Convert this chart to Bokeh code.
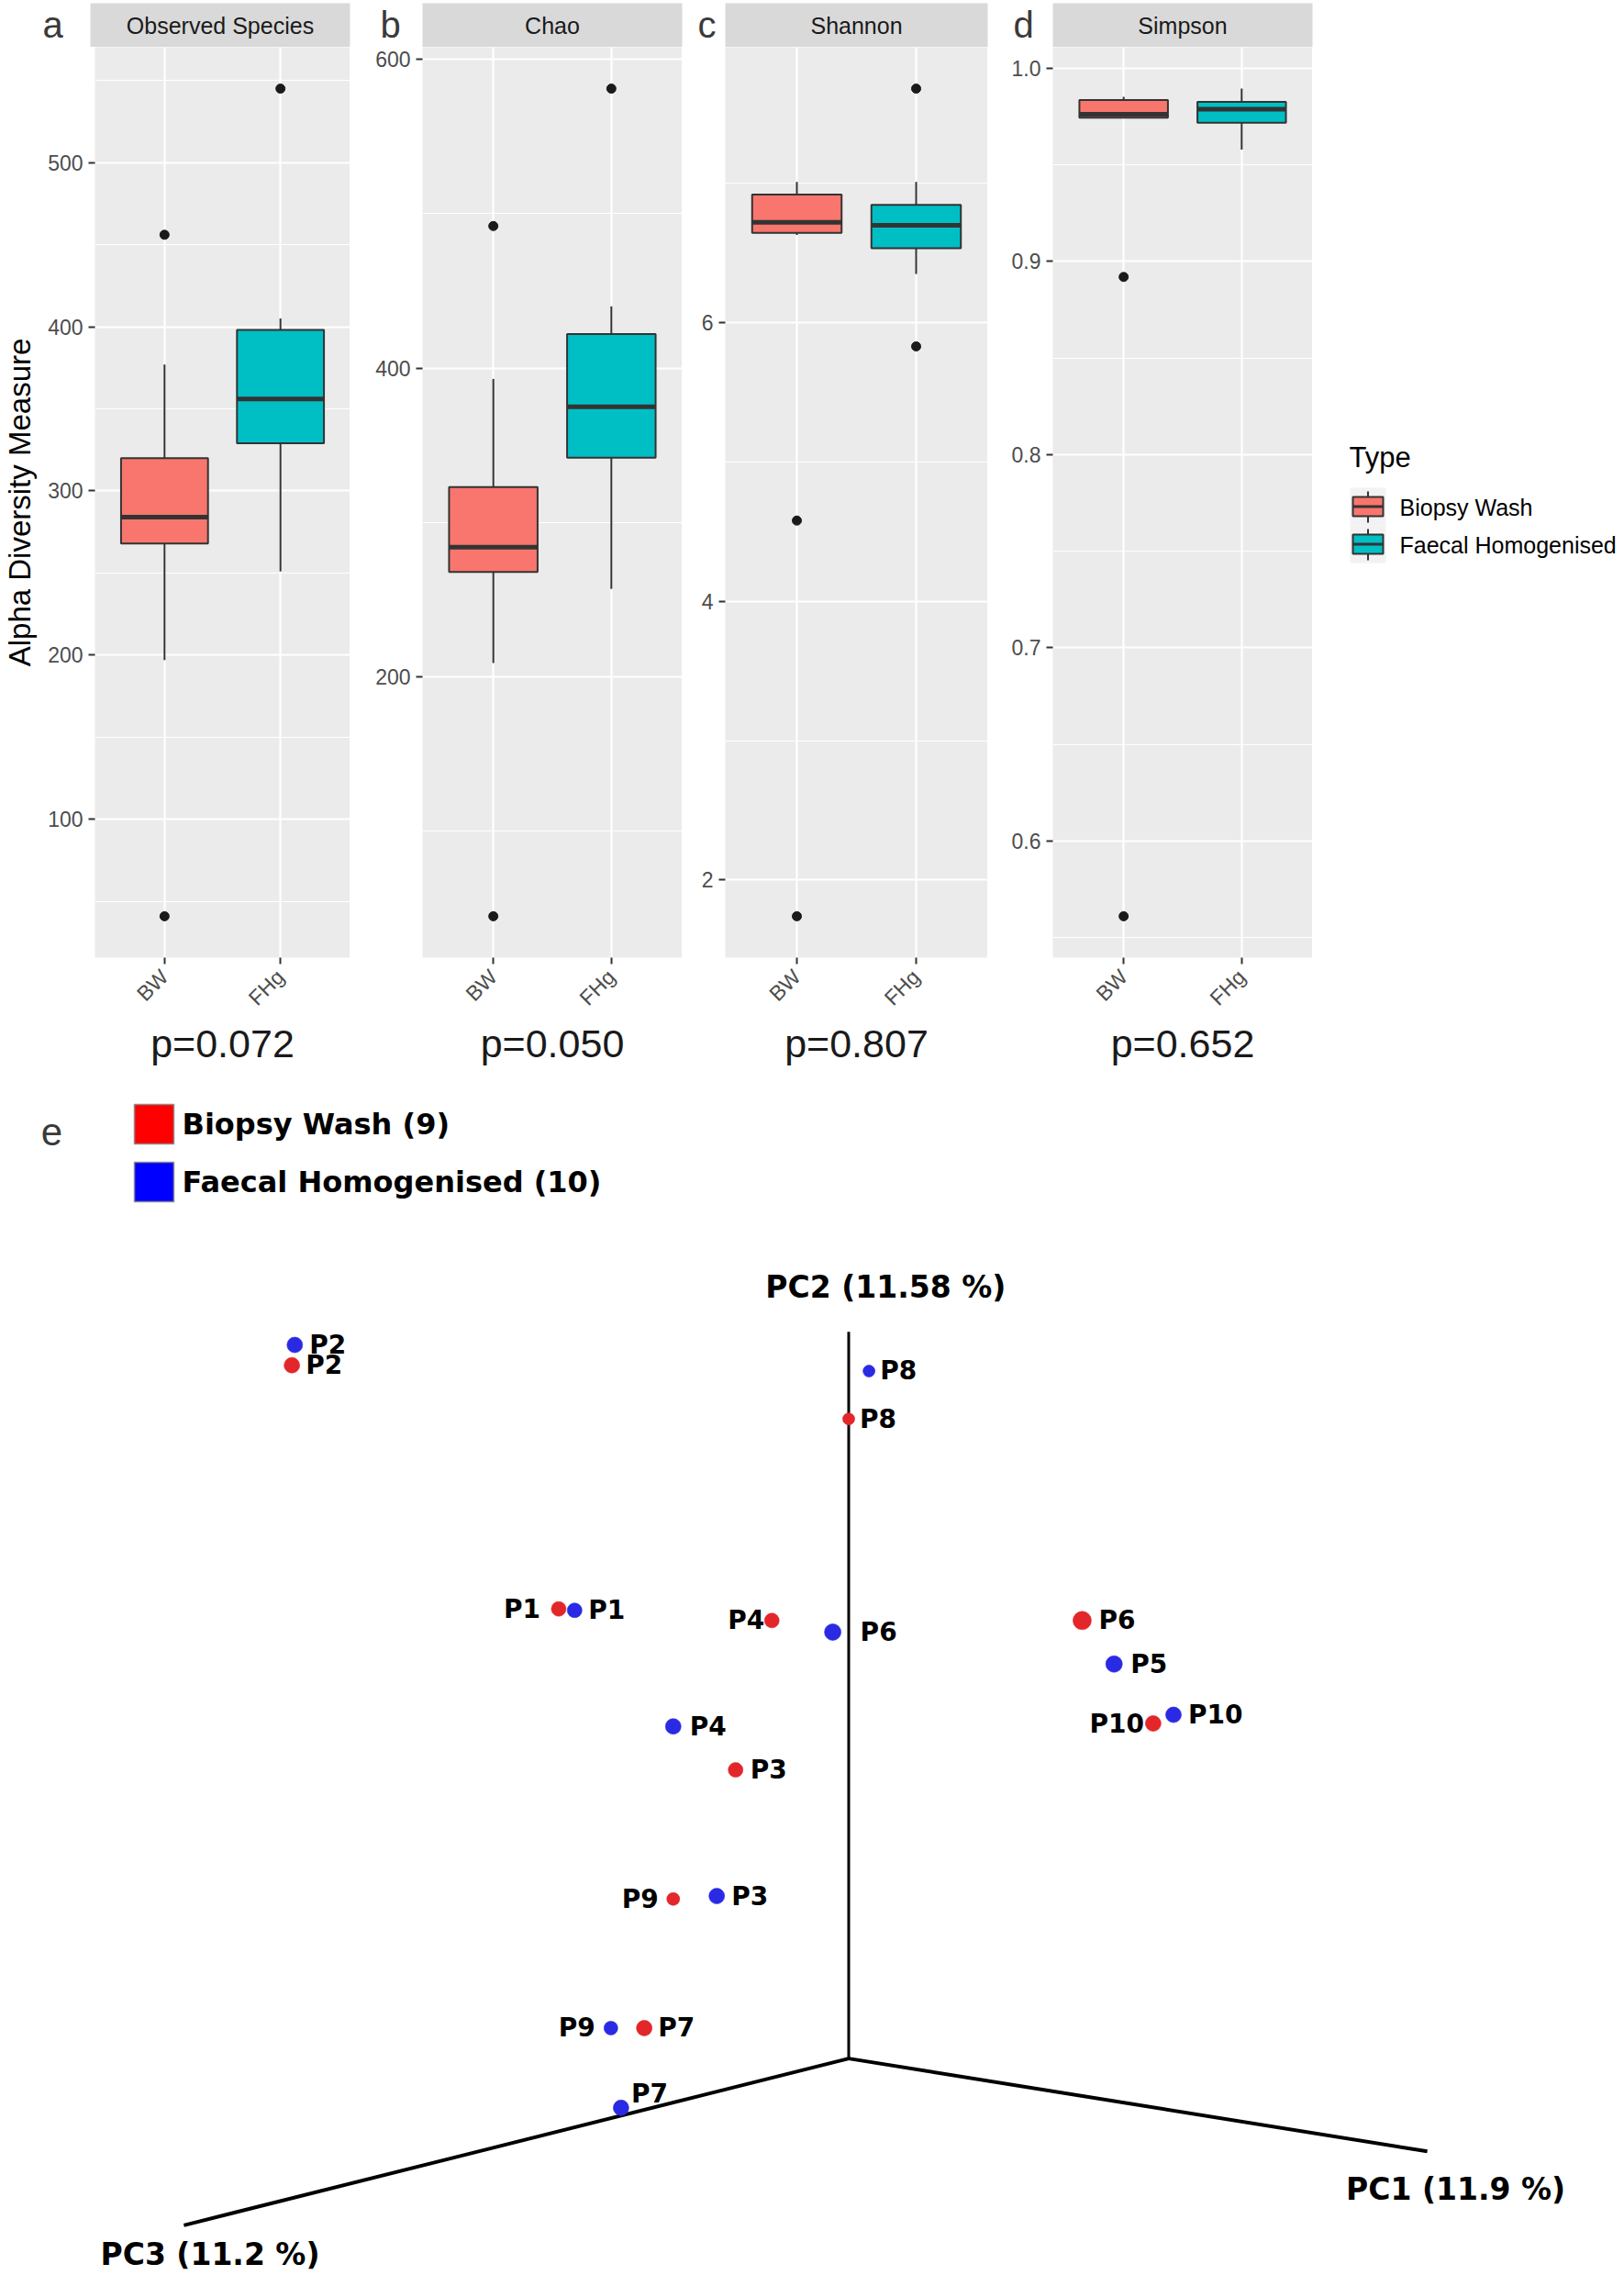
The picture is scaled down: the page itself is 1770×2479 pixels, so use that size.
import math
from bokeh.plotting import figure
from bokeh.models import Range1d, FixedTicker, NumeralTickFormatter, ColumnDataSource
from bokeh.layouts import row, column
from bokeh.embed import file_html
from bokeh.resources import INLINE
from bokeh.core.properties import value

# ------------------------------------------------------------------ data
group_codes = ["BW", "FHg"]
group_names = ["Biopsy Wash", "Faecal Homogenised"]
metric_names = ["Observed Species", "Chao", "Shannon", "Simpson"]
panel_letters = ["a", "b", "c", "d"]
p_value_labels = ["p=0.072", "p=0.050", "p=0.807", "p=0.652"]

# box statistics, order [BW, FHg]
observed_lower = [197, 251]
observed_q1 = [268, 329]
observed_median = [284, 356]
observed_q3 = [320, 398]
observed_upper = [377, 405]
observed_outliers_bw = [456, 41]
observed_outliers_fhg = [545]
observed_ticks = [100, 200, 300, 400, 500]

chao_lower = [209, 257]
chao_q1 = [268, 342]
chao_median = [284, 375]
chao_q3 = [323, 422]
chao_upper = [393, 440]
chao_outliers_bw = [492, 45]
chao_outliers_fhg = [581]
chao_ticks = [200, 400, 600]

shannon_lower = [6.63, 6.35]
shannon_q1 = [6.645, 6.535]
shannon_median = [6.72, 6.70]
shannon_q3 = [6.92, 6.845]
shannon_upper = [7.01, 7.01]
shannon_outliers_bw = [4.58, 1.74]
shannon_outliers_fhg = [7.68, 5.83]
shannon_ticks = [2, 4, 6]

simpson_lower = [0.9745, 0.958]
simpson_q1 = [0.9745, 0.9718]
simpson_median = [0.9762, 0.9789]
simpson_q3 = [0.9836, 0.9827]
simpson_upper = [0.9853, 0.9895]
simpson_outliers_bw = [0.892, 0.561]
simpson_outliers_fhg = []
simpson_ticks = [0.6, 0.7, 0.8, 0.9, 1.0]

# PCoA (3-D ordination, projected onto the page plane; origin = axes origin)
pc_axis_labels = ["PC1 (11.9 %)", "PC2 (11.58 %)", "PC3 (11.2 %)"]
pc_axis_end_x = [3.99, 0.0, -4.585]
pc_axis_end_y = [-0.64, 5.01, -1.15]

bw_samples = ["P1", "P2", "P3", "P4", "P6", "P7", "P8", "P9", "P10"]
bw_proj_x = [-2.00, -3.84, -0.78, -0.53, 1.61, -1.41, 0.00, -1.21, 2.10]
bw_proj_y = [3.10, 4.78, 1.99, 3.02, 3.02, 0.21, 4.41, 1.10, 2.31]

fhg_samples = ["P1", "P2", "P3", "P4", "P5", "P6", "P7", "P8", "P9", "P10"]
fhg_proj_x = [-1.89, -3.82, -0.91, -1.21, 1.83, -0.11, -1.57, 0.14, -1.64, 2.24]
fhg_proj_y = [3.09, 4.92, 1.12, 2.29, 2.72, 2.94, -0.34, 4.74, 0.21, 2.37]

legend_e_labels = ["Biopsy Wash (9)", "Faecal Homogenised (10)"]

# ------------------------------------------------------------------ styles
BOX_FILL = ["#F8766D", "#00BFC4"]
DARK = "#333333"
SANS = "Liberation Sans"
BOLD = "DejaVu Sans"
PT_RED = "#E3262A"
PT_BLUE = "#2A2AE4"
LEGEND_E_FILL = ["#FF0000", "#0000FF"]

bw_marker_size = {"P1": 16, "P2": 17, "P3": 16, "P4": 16, "P6": 20, "P7": 17,
                  "P8": 13, "P9": 14, "P10": 17}
fhg_marker_size = {"P1": 16, "P2": 17, "P3": 17, "P4": 17, "P5": 18, "P6": 18,
                   "P7": 17, "P8": 13, "P9": 15, "P10": 17}
bw_label_dx = {"P1": -20, "P2": 15, "P3": 16, "P4": -8, "P6": 18, "P7": 15,
               "P8": 12, "P9": -16, "P10": -10}
fhg_label_dx = {"P1": 15, "P2": 16, "P3": 16, "P4": 18, "P5": 18, "P6": 30,
                "P7": 11, "P8": 12, "P9": -17, "P10": 16}
fhg_label_dy = {"P7": -15}

# page layout (px, page origin at top-left)
PAGE_W = 1768
frame_left = [98, 460, 790, 1147]
frame_right = [381, 743, 1076, 1430]
fig_left = [0, 381, 743, 1076]
STRIP_TOP, STRIP_BOTTOM = 3, 51
FRAME_BOTTOM = 1043
PANEL_BOTTOM_BORDER = 127
PANEL_H = FRAME_BOTTOM - STRIP_BOTTOM + PANEL_BOTTOM_BORDER
LEGEND_X0 = 1430
PCOA_TOP = STRIP_BOTTOM + PANEL_H
PCOA_H = 2478 - PCOA_TOP

panels = [
    dict(lower=observed_lower, q1=observed_q1, med=observed_median, q3=observed_q3,
         upper=observed_upper, out_bw=observed_outliers_bw, out_fhg=observed_outliers_fhg,
         ticks=observed_ticks, fmt=None),
    dict(lower=chao_lower, q1=chao_q1, med=chao_median, q3=chao_q3,
         upper=chao_upper, out_bw=chao_outliers_bw, out_fhg=chao_outliers_fhg,
         ticks=chao_ticks, fmt=None),
    dict(lower=shannon_lower, q1=shannon_q1, med=shannon_median, q3=shannon_q3,
         upper=shannon_upper, out_bw=shannon_outliers_bw, out_fhg=shannon_outliers_fhg,
         ticks=shannon_ticks, fmt=None),
    dict(lower=simpson_lower, q1=simpson_q1, med=simpson_median, q3=simpson_q3,
         upper=simpson_upper, out_bw=simpson_outliers_bw, out_fhg=simpson_outliers_fhg,
         ticks=simpson_ticks, fmt="0.0"),
]


def blank(fig):
    fig.outline_line_color = None
    fig.background_fill_color = "white"
    fig.border_fill_color = "white"
    fig.grid.visible = False
    return fig


# ------------------------------------------------------------------ strips
strip = figure(width=PAGE_W, height=STRIP_BOTTOM,
               x_range=Range1d(0, PAGE_W), y_range=Range1d(STRIP_BOTTOM, 0),
               x_axis_location=None, y_axis_location=None,
               output_backend="svg", toolbar_location=None, min_border=0)
blank(strip)
strip.quad(left=frame_left, right=frame_right, top=STRIP_TOP, bottom=STRIP_BOTTOM,
           fill_color="#D9D9D9", line_color=None)
strip.text(x=[(l + r) / 2 for l, r in zip(frame_left, frame_right)], y=27,
           text=metric_names, text_align="center", text_baseline="middle",
           text_font=value(SANS), text_font_size="25px", text_color="#1A1A1A")
strip.text(x=[57, 425, 770, 1115], y=26, text=panel_letters, text_align="center",
           text_baseline="middle", text_font=value(SANS), text_font_size="40px",
           text_color="#3A3A3A")


# ------------------------------------------------------------------ box panels
def make_panel(k):
    d = panels[k]
    vals = d["lower"] + d["upper"] + d["q1"] + d["q3"] + d["out_bw"] + d["out_fhg"]
    lo, hi = min(vals), max(vals)
    pad = 0.05 * (hi - lo)
    lb = frame_left[k] - fig_left[k]
    p = figure(width=frame_right[k] - fig_left[k], height=PANEL_H,
               x_range=Range1d(0.4, 2.6), y_range=Range1d(lo - pad, hi + pad),
               output_backend="svg", toolbar_location=None,
               min_border_left=lb, min_border_right=0, min_border_top=0,
               min_border_bottom=PANEL_BOTTOM_BORDER)
    p.background_fill_color = "#EBEBEB"
    p.border_fill_color = "white"
    p.outline_line_color = None

    t = d["ticks"]
    step = t[1] - t[0]
    minor = [v - step / 2 for v in t] + [t[-1] + step / 2]
    yt = FixedTicker(ticks=t, minor_ticks=minor)
    xt = FixedTicker(ticks=[1, 2], minor_ticks=[])
    p.yaxis.ticker = yt
    p.xaxis.ticker = xt
    p.ygrid.ticker = yt
    p.xgrid.ticker = xt
    p.grid.grid_line_color = "white"
    p.grid.grid_line_width = 2.2
    p.ygrid.minor_grid_line_color = "white"
    p.ygrid.minor_grid_line_width = 1.1
    if d["fmt"]:
        p.yaxis.formatter = NumeralTickFormatter(format=d["fmt"])
    p.xaxis.major_label_overrides = {1: group_codes[0], 2: group_codes[1]}
    p.xaxis.major_label_orientation = math.pi / 4

    for ax in (p.xaxis[0], p.yaxis[0]):
        ax.axis_line_color = None
        ax.major_tick_line_color = DARK
        ax.major_tick_line_width = 2
        ax.major_tick_out = 7
        ax.major_tick_in = 0
        ax.minor_tick_line_color = None
        ax.major_label_text_font = SANS
        ax.major_label_text_font_size = "23px"
        ax.major_label_text_color = "#4D4D4D"
    p.yaxis.major_label_standoff = 6
    p.xaxis.major_label_standoff = 10

    p.xaxis.axis_label = p_value_labels[k]
    p.xaxis.axis_label_text_font = SANS
    p.xaxis.axis_label_text_font_size = "43px"
    p.xaxis.axis_label_text_font_style = "normal"
    p.xaxis.axis_label_text_color = "#1A1A1A"
    p.xaxis.axis_label_standoff = 0
    if k == 0:
        p.yaxis.axis_label = "Alpha Diversity Measure"
        p.yaxis.axis_label_text_font = SANS
        p.yaxis.axis_label_text_font_size = "33px"
        p.yaxis.axis_label_text_font_style = "normal"
        p.yaxis.axis_label_text_color = "black"
        p.yaxis.axis_label_standoff = 9

    xs = [1, 2]
    half = 0.375
    src = ColumnDataSource(dict(
        x=xs, x0=[x - half for x in xs], x1=[x + half for x in xs],
        lo=d["lower"], q1=d["q1"], med=d["med"], q3=d["q3"], hi=d["upper"],
        fill=BOX_FILL))
    p.segment("x", "lo", "x", "q1", line_color=DARK, line_width=2, source=src)
    p.segment("x", "q3", "x", "hi", line_color=DARK, line_width=2, source=src)
    p.vbar(x="x", width=2 * half, bottom="q1", top="q3", fill_color="fill",
           line_color=DARK, line_width=2, source=src)
    p.segment("x0", "med", "x1", "med", line_color=DARK, line_width=5, source=src)
    ox = [1] * len(d["out_bw"]) + [2] * len(d["out_fhg"])
    oy = d["out_bw"] + d["out_fhg"]
    p.scatter(ox, oy, size=10, fill_color="#1A1A1A", line_color="#1A1A1A")
    return p


box_figs = [make_panel(k) for k in range(4)]

# ------------------------------------------------------------------ legend "Type"
lg = figure(width=PAGE_W - LEGEND_X0, height=PANEL_H,
            x_range=Range1d(LEGEND_X0, PAGE_W), y_range=Range1d(FRAME_BOTTOM, STRIP_BOTTOM),
            x_axis_location=None, y_axis_location=None,
            output_backend="svg", toolbar_location=None,
            min_border_left=0, min_border_right=0, min_border_top=0,
            min_border_bottom=PANEL_BOTTOM_BORDER)
blank(lg)
lg.text(x=[1470], y=[498], text=["Type"], text_baseline="middle",
        text_font=value(SANS), text_font_size="31px", text_color="black")
key_top = [531, 572]
key_h = 41
kx0, kx1 = 1471, 1510
kxc = (kx0 + kx1) / 2
key_bottom = [t + key_h for t in key_top]
lg.quad(left=kx0, right=kx1, top=key_top, bottom=key_bottom,
        fill_color="#F2F2F2", line_color=None)
lg.segment(x0=kxc, y0=[t + 4 for t in key_top], x1=kxc, y1=[b - 3 for b in key_bottom],
           line_color=DARK, line_width=2)
lg.quad(left=kx0 + 3, right=kx1 - 3, top=[t + 10 for t in key_top],
        bottom=[b - 10 for b in key_bottom], fill_color=BOX_FILL,
        line_color=DARK, line_width=2)
lg.segment(x0=kx0 + 3, y0=[t + key_h / 2 for t in key_top], x1=kx1 - 3,
           y1=[t + key_h / 2 for t in key_top], line_color=DARK, line_width=3)
lg.text(x=1525, y=[t + key_h / 2 + 1 for t in key_top], text=group_names,
        text_baseline="middle", text_font=value(SANS), text_font_size="25px",
        text_color="black")

top_row = row(*box_figs, lg, spacing=0)

# ------------------------------------------------------------------ PCoA
PX_PER_UNIT = 158.04
ORIGIN_PX = (924.5, 2242.6)   # page position of the ordination origin


def ux(xpx):
    return (xpx - ORIGIN_PX[0]) / PX_PER_UNIT


def uy(ypx):
    return (ORIGIN_PX[1] - ypx) / PX_PER_UNIT


pc = figure(width=PAGE_W, height=PCOA_H,
            x_range=Range1d(ux(0), ux(PAGE_W)),
            y_range=Range1d(uy(PCOA_TOP + PCOA_H), uy(PCOA_TOP)),
            x_axis_location=None, y_axis_location=None,
            output_backend="svg", toolbar_location=None, min_border=0)
blank(pc)

pc.segment(x0=0, y0=0, x1=pc_axis_end_x, y1=pc_axis_end_y, line_color="black",
           line_width=[4, 3, 4])
pc.text(x=[3.43, 0.255, -5.16], y=[-0.90, 5.32, -1.35], text=pc_axis_labels,
        text_align=["left", "center", "left"], text_baseline="middle",
        text_font=value(BOLD), text_font_style="bold", text_font_size="33px",
        text_color="black")


def label_sources(samples, xs, ys, dx, dy):
    right = dict(x=[], y=[], t=[], xo=[], yo=[])
    left = dict(x=[], y=[], t=[], xo=[], yo=[])
    for s, x, y in zip(samples, xs, ys):
        tgt = right if dx[s] >= 0 else left
        tgt["x"].append(x)
        tgt["y"].append(y)
        tgt["t"].append(s)
        tgt["xo"].append(dx[s])
        tgt["yo"].append(dy.get(s, 0))
    return ColumnDataSource(right), ColumnDataSource(left)


for samples, xs, ys, sizes, col, dx, dy in [
        (bw_samples, bw_proj_x, bw_proj_y, bw_marker_size, PT_RED, bw_label_dx, {}),
        (fhg_samples, fhg_proj_x, fhg_proj_y, fhg_marker_size, PT_BLUE, fhg_label_dx, fhg_label_dy)]:
    pc.scatter(x=xs, y=ys, size=[sizes[s] for s in samples], fill_color=col,
               line_color=col, line_alpha=0.6)
    rsrc, lsrc = label_sources(samples, xs, ys, dx, dy)
    for src, align in ((rsrc, "left"), (lsrc, "right")):
        pc.text(x="x", y="y", text="t", x_offset="xo", y_offset="yo", source=src,
                text_align=align, text_baseline="middle", text_font=value(BOLD),
                text_font_style="bold", text_font_size="28px", text_color="black")

# panel letter and group legend of the ordination
pc.text(x=[ux(56)], y=[uy(1233)], text=["e"], text_align="center",
        text_baseline="middle", text_font=value(SANS), text_font_size="42px",
        text_color="#3A3A3A")
sq_top = [1203, 1266]
sq_size = 43
pc.quad(left=ux(146), right=ux(146 + sq_size), top=[uy(t) for t in sq_top],
        bottom=[uy(t + sq_size) for t in sq_top], fill_color=LEGEND_E_FILL,
        line_color="#8C8C8C", line_width=1.5)
pc.text(x=ux(198), y=[uy(t + sq_size / 2) for t in sq_top], text=legend_e_labels,
        text_baseline="middle", text_font=value(BOLD), text_font_style="bold",
        text_font_size="32px", text_color="black")

layout = column(strip, top_row, pc, spacing=0)
open("out.html", "w").write(file_html(layout, INLINE))
